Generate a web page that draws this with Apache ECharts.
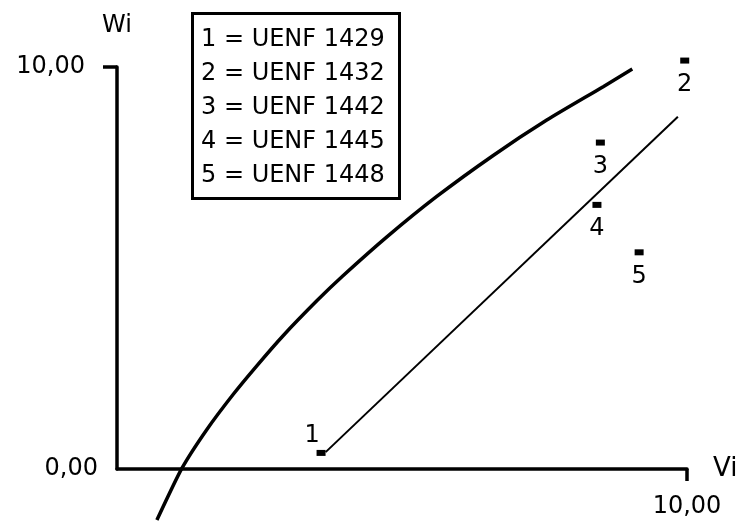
<!DOCTYPE html>
<html>
<head>
<meta charset="utf-8">
<script src="https://cdn.jsdelivr.net/npm/echarts@6/dist/echarts.min.js"></script>
<style>
  html, body { margin: 0; padding: 0; background: #fff; }
  #chart { width: 744px; height: 524px; }
</style>
</head>
<body>
<div id="chart"></div>
<script>
// sample ids shown in the key box
const sampleNums = ['1', '2', '3', '4', '5'];
const sampleIds = ['UENF 1429', 'UENF 1432', 'UENF 1442', 'UENF 1445', 'UENF 1448'];

// Vi, Wi of each sample
const sampleVi = [3.58, 9.96, 8.48, 8.42, 9.16];
const sampleWi = [0.40, 10.16, 8.12, 6.57, 5.39];

// thick curve
const curveVi = [0.70, 1.14, 1.58, 2.04, 2.46, 2.91, 3.51, 3.96, 4.74, 5.61, 6.60, 7.54, 8.53, 9.04];
const curveWi = [-1.27, 0.02, 0.99, 1.86, 2.58, 3.31, 4.19, 4.80, 5.78, 6.78, 7.80, 8.68, 9.51, 9.95];

// thin line starting at sample 1
const lineVi = [3.66, 9.84];
const lineWi = [0.42, 8.76];

const axisTicks = [10];
const yLabels = [0, 10];
const xLabels = [10];

const font = 'DejaVu Sans';
const fmt = v => v.toFixed(2).replace('.', ',');

const chart = echarts.init(document.getElementById('chart'));

chart.setOption({
    animation: false,
    backgroundColor: '#fff',
    textStyle: { fontFamily: font, color: '#000' },
    title: {
        text: sampleNums.map((n, i) => n + ' = ' + sampleIds[i]).join('\n'),
        left: 192,
        top: 13,
        borderWidth: 3,
        borderColor: '#000',
        padding: [10, 15, 6, 9],
        textStyle: {
            fontFamily: font,
            fontSize: 24,
            fontWeight: 'normal',
            lineHeight: 34,
            color: '#000'
        }
    },
    grid: { left: 117, right: 57, top: 67, bottom: 55 },
    xAxis: {
        type: 'value',
        min: 0,
        max: 10,
        name: 'Vi',
        nameLocation: 'end',
        nameGap: 26,
        nameTextStyle: { fontFamily: font, fontSize: 26, color: '#000' },
        axisLine: { lineStyle: { color: '#000', width: 3.5 } },
        axisTick: { customValues: axisTicks, length: 12, lineStyle: { color: '#000', width: 3.5 } },
        axisLabel: {
            customValues: xLabels,
            formatter: fmt,
            margin: 26,
            fontFamily: font,
            fontSize: 24,
            color: '#000'
        },
        splitLine: { show: false }
    },
    yAxis: {
        type: 'value',
        min: 0,
        max: 10,
        name: '{w|Wi}',
        nameLocation: 'end',
        nameGap: 29,
        nameTextStyle: {
            rich: { w: { fontFamily: font, fontSize: 24, color: '#000' } }
        },
        axisLine: { lineStyle: { color: '#000', width: 3.5 } },
        axisTick: { customValues: axisTicks, length: 14, lineStyle: { color: '#000', width: 3.5 } },
        axisLabel: {
            customValues: yLabels,
            formatter: v => (v === 10 ? '{a|' + fmt(v) + '}' : '{b|' + fmt(v) + '}'),
            margin: 19,
            rich: {
                a: { fontFamily: font, fontSize: 24, color: '#000', padding: [0, 13, 0, 0] },
                b: { fontFamily: font, fontSize: 24, color: '#000' }
            }
        },
        splitLine: { show: false }
    },
    series: [
        {
            type: 'line',
            data: curveVi.map((v, i) => [v, curveWi[i]]),
            smooth: 0.2,
            clip: false,
            showSymbol: false,
            lineStyle: { color: '#000', width: 3.5 }
        },
        {
            type: 'line',
            data: lineVi.map((v, i) => [v, lineWi[i]]),
            clip: false,
            showSymbol: false,
            lineStyle: { color: '#000', width: 2 }
        },
        {
            type: 'scatter',
            data: sampleVi.map((v, i) => ({
                value: [v, sampleWi[i]],
                label: i === 0 ? { position: 'top', distance: 2, offset: [-9, 0] } : undefined
            })),
            symbol: 'rect',
            symbolSize: [9, 6],
            clip: false,
            itemStyle: { color: '#000', opacity: 1 },
            label: {
                show: true,
                position: 'bottom',
                distance: 9,
                formatter: p => sampleNums[p.dataIndex],
                fontFamily: font,
                fontSize: 24,
                color: '#000',
                opacity: 1
            }
        }
    ]
});
</script>
</body>
</html>
